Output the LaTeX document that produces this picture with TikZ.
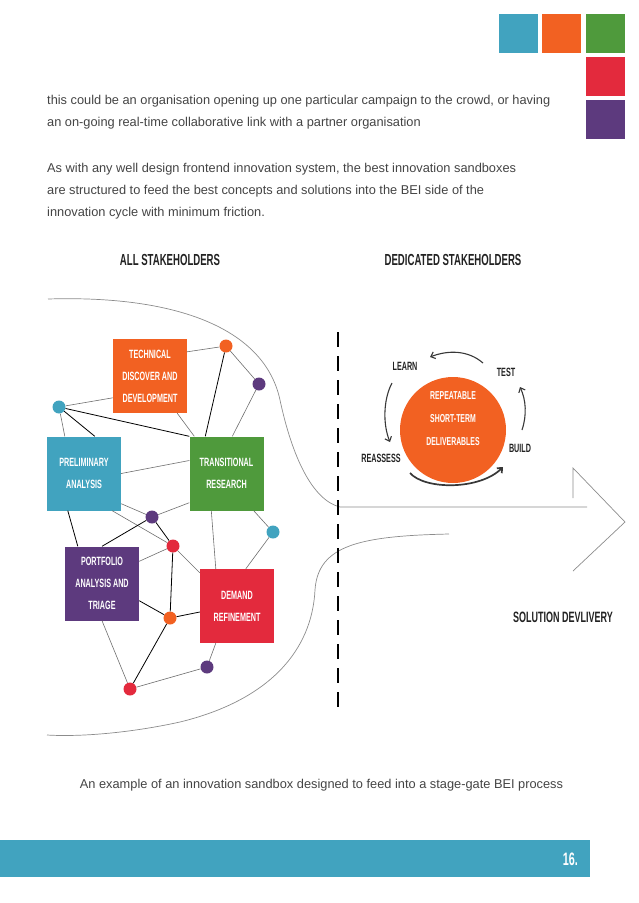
\documentclass[tikz,border=0pt]{standalone}
\usepackage{fontspec}
\setmainfont{Liberation Sans}
\newfontfamily\condfont[FakeStretch=0.6]{Liberation Sans}
\usetikzlibrary{arrows.meta,calc}
\definecolor{sbblue}{HTML}{41A3BF}
\definecolor{sborange}{HTML}{F26122}
\definecolor{sbgreen}{HTML}{4F9A3C}
\definecolor{sbred}{HTML}{E32A3D}
\definecolor{sbpurple}{HTML}{5D3A7E}
\definecolor{bodytext}{HTML}{444444}
\definecolor{outline}{HTML}{8C8C8C}
\definecolor{linkgray}{HTML}{6E6E6E}
\definecolor{ink}{HTML}{222222}

\begin{document}
\begin{tikzpicture}[x=1pt, y=-1pt,
  stage/.style={fill=#1, text=white, minimum size=74pt, inner sep=0pt, align=center,
    font=\condfont\bfseries\fontsize{12}{22}\selectfont},
  dot/.style={circle, fill=#1, minimum size=13pt, inner sep=0pt},
  link/.style={draw=linkgray, line width=0.6pt},
  linkd/.style={draw=black, line width=0.8pt},
  para/.style={anchor=base west, inner sep=0pt, text=bodytext, font=\fontsize{12.8}{15}\selectfont},
  heading/.style={anchor=base, inner sep=0pt, text=ink, font=\condfont\bfseries\fontsize{16}{18}\selectfont},
  cyclabel/.style={anchor=base, inner sep=0pt, text=ink, font=\condfont\bfseries\fontsize{12}{14}\selectfont},
  cycarrow/.style={draw=ink!90, line width=1.1pt, -{Straight Barb[length=4pt,width=7pt]}},
  outlinepath/.style={draw=outline, line width=0.7pt}]
  \useasboundingbox (0,0) rectangle (638,903);
  \foreach \col/\x/\y in {sbblue/499/14, sborange/542/14, sbgreen/586/14, sbred/586/57, sbpurple/586/100}
    \fill[\col] (\x,\y) rectangle ++(39,39);

  \node[para] (p1) at (47,104) {this could be an organisation opening up one particular campaign to the crowd, or having};
  \node[para] (p2) at (47,126) {an on-going real-time collaborative link with a partner organisation};
  \node[para] (p3) at (47,172) {As with any well design frontend innovation system, the best innovation sandboxes};
  \node[para] (p4) at (47,194) {are structured to feed the best concepts and solutions into the BEI side of the};
  \node[para] (p5) at (47,216) {innovation cycle with minimum friction.};

  \node[heading] (allsh) at (170,265) {ALL STAKEHOLDERS};
  \node[heading] (dedsh) at (453,265) {DEDICATED STAKEHOLDERS};

  \draw[outlinepath] (48,299) .. controls (180,295) and (265,330) .. (280,400)
    .. controls (292,456) and (312,500) .. (340,507) -- (587,507);
  \draw[outlinepath] (449,534) .. controls (360,536) and (318,545) .. (315,590)
    .. controls (312,650) and (270,700) .. (180,722) .. controls (130,733) and (80,737) .. (47,735);
  \draw[outlinepath] (573,498) -- (573,468) -- (625,522) -- (573,571);
  \draw[black, line width=1.1pt, dash pattern=on 15pt off 9pt] (338,332) -- (338,710);

  \node[stage=sborange] (tech) at (150,376) {TECHNICAL\\DISCOVER AND\\DEVELOPMENT};
  \node[stage=sbblue] (prelim) at (84,473.5) {PRELIMINARY\\ANALYSIS};
  \node[stage=sbgreen] (trans) at (226.5,473.5) {TRANSITIONAL\\RESEARCH};
  \node[stage=sbpurple] (portf) at (102,583.5) {PORTFOLIO\\ANALYSIS AND\\TRIAGE};
  \node[stage=sbred] (demand) at (237,606) {DEMAND\\REFINEMENT};

  \foreach \n/\c/\p in {o1/sborange/{226,346}, u1/sbpurple/{259,384}, b1/sbblue/{59,407},
      u2/sbpurple/{152,517}, r1/sbred/{173,546}, b2/sbblue/{273,532},
      o2/sborange/{170,618}, u3/sbpurple/{207,667}, r2/sbred/{130,689}}
    \node[dot=\c] (\n) at (\p) {};

  \draw[link] ($(tech.north east)+(0,13)$) -- (o1);
  \draw[link] (o1) -- (u1);
  \draw[linkd] (o1) -- ($(trans.north west)+(16,0)$);
  \draw[link] (u1) -- ($(trans.north west)+(43,0)$);
  \draw[link] (b1) -- ($(tech.north west)+(0,59)$);
  \draw[link] (b1) -- ($(prelim.north west)+(18,0)$);
  \draw[linkd] (b1) -- ($(prelim.north west)+(48,0)$);
  \draw[linkd] (b1) -- (trans.north west);
  \draw[link] ($(tech.south east)+(-10,0)$) -- ($(trans.north west)+(5,0)$);
  \draw[link] (prelim.east) -- ($(trans.west)+(0,-13)$);
  \draw[link] ($(prelim.south east)+(0,-7)$) -- (u2);
  \draw[link] ($(prelim.south east)+(-9,0)$) -- (r1);
  \draw[link] ($(trans.south west)+(0,-8)$) -- (u2);
  \draw[linkd] ($(prelim.south west)+(21,0)$) -- ($(portf.north west)+(13,0)$);
  \draw[linkd] (u2) -- (portf.north);
  \draw[linkd] (u2) -- (r1);
  \draw[link] (r1) -- ($(portf.north east)+(0,15)$);
  \draw[linkd] (r1) -- (o2);
  \draw[link] (r1) -- ($(demand.north west)+(0,4)$);
  \draw[link] ($(trans.south west)+(22,0)$) -- ($(demand.north west)+(16,0)$);
  \draw[link] ($(trans.south east)+(-10,0)$) -- (b2);
  \draw[link] (b2) -- ($(demand.north west)+(46,0)$);
  \draw[linkd] ($(portf.south east)+(0,-20)$) -- (o2);
  \draw[linkd] (o2) -- ($(demand.west)+(0,6)$);
  \draw[linkd] (o2) -- (r2);
  \draw[link] (portf.south) -- (r2);
  \draw[link] (r2) -- (u3);
  \draw[link] (u3) -- ($(demand.south west)+(16,0)$);

  \node[circle, fill=sborange, minimum size=106pt, inner sep=0pt] (rep) at (453,430) {};
  \node[align=center, text=white, inner sep=0pt, font=\condfont\bfseries\fontsize{11.5}{23}\selectfont]
    (reptext) at ($(rep)+(0,-11)$) {REPEATABLE\\SHORT-TERM\\DELIVERABLES};
  \node[cyclabel] (learn) at (405,370) {LEARN};
  \node[cyclabel] (test) at (506,376) {TEST};
  \node[cyclabel] (build) at (520,452) {BUILD};
  \node[cyclabel] (reassess) at (381,462) {REASSESS};

  \coordinate (ta) at (483,363);
  \coordinate (tb) at (430,357);
  \coordinate (la) at (392,383);
  \coordinate (lb) at (390,442);
  \coordinate (ba) at (410,473);
  \coordinate (bb) at (503,467);
  \coordinate (ra) at (522,430);
  \coordinate (rb) at (520,387);
  \draw[cycarrow] (ta) .. controls (468,350) and (448,350) .. (tb);
  \draw[cycarrow] (la) .. controls (383,400) and (383,425) .. (lb);
  \draw[cycarrow, line width=1.7pt] (ba) .. controls (425,490) and (480,490) .. (bb);
  \draw[cycarrow] (ra) .. controls (527,415) and (526,400) .. (rb);

  \node[anchor=base, inner sep=0pt, text=ink, font=\condfont\bfseries\fontsize{15}{17}\selectfont]
    (delivery) at (563,622) {SOLUTION DEVLIVERY};

  \node[anchor=base, inner sep=0pt, text=bodytext, font=\fontsize{12.8}{15}\selectfont]
    (caption) at (321.5,788) {An example of an innovation sandbox designed to feed into a stage-gate BEI process};

  \fill[sbblue] (0,840) rectangle (590,877);
  \node[anchor=base east, inner sep=0pt, text=white, font=\condfont\bfseries\fontsize{18}{20}\selectfont]
    (pagenum) at (578,865) {16.};
\end{tikzpicture}
\end{document}
